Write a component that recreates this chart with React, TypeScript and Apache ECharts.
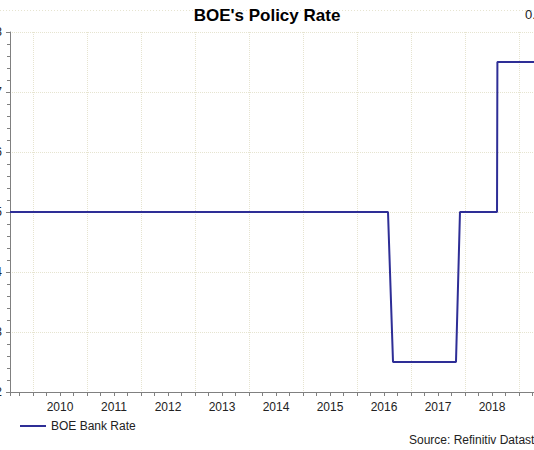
import { useEffect, useRef } from 'react';
import * as echarts from 'echarts';

// x in decimal years, y in percent
const rateDates = [2009.574, 2016.574, 2016.667, 2017.833, 2017.907, 2018.593, 2018.6, 2019.463];
const rateValues = [0.5, 0.5, 0.25, 0.25, 0.5, 0.5, 0.75, 0.75];
const X_MIN = 2009.574;
const X_MAX = 2019.463;
const yTicks = { min: 0.2, max: 0.8, step: 0.1 };
const lastValueLabel = '0.75';

const FONT = '"Liberation Sans", Arial, sans-serif';
const GRID_COLOR = '#e6e4d0';
const AXIS_COLOR = '#808080';

export default function App() {
  const chartRef = useRef<HTMLDivElement>(null);

  useEffect(() => {
    if (!chartRef.current) return;
    document.body.style.margin = '0';
    const chart = echarts.init(chartRef.current, null, { renderer: 'svg' });

    const points = rateDates.map((d, i) => [d, rateValues[i]]);

    const option = {
      animation: false,
      textStyle: { fontFamily: FONT },
      title: {
        text: "BOE's Policy Rate",
        left: 'center',
        top: 2,
        textStyle: { fontFamily: FONT, fontSize: 17, fontWeight: 'bold', color: '#000' },
      },
      legend: {
        left: 14,
        top: 415,
        itemWidth: 26,
        itemHeight: 2,
        itemGap: 10,
        textStyle: { fontFamily: FONT, fontSize: 12, color: '#222' },
        data: ['BOE Bank Rate'],
      },
      grid: {
        left: 10,
        right: -10,
        top: 32,
        bottom: 58,
        containLabel: false,
        outerBoundsMode: 'none',
      },
      xAxis: [
        {
          // main axis: line + year gridlines
          type: 'value',
          position: 'bottom',
          min: X_MIN,
          max: X_MAX,
          splitNumber: 10,
          minInterval: 1,
          maxInterval: 1,
          axisLine: { show: true, onZero: false, lineStyle: { color: AXIS_COLOR, width: 1 } },
          axisTick: { show: false },
          axisLabel: { show: false },
          splitLine: { show: true, lineStyle: { color: GRID_COLOR, type: 'dotted', width: 1 } },
        },
        {
          // quarterly ticks
          type: 'value',
          position: 'bottom',
          min: X_MIN,
          max: X_MAX,
          splitNumber: 40,
          minInterval: 0.25,
          maxInterval: 0.25,
          axisLine: { show: false, onZero: false },
          axisTick: { show: true, length: 4, lineStyle: { color: AXIS_COLOR } },
          axisLabel: { show: false },
          splitLine: { show: false },
        },
        {
          // year labels, centred mid-year
          type: 'value',
          position: 'bottom',
          min: X_MIN - 0.5,
          max: X_MAX - 0.5,
          splitNumber: 10,
          minInterval: 1,
          maxInterval: 1,
          axisLine: { show: false, onZero: false },
          axisTick: { show: false },
          splitLine: { show: false },
          axisLabel: {
            show: true,
            showMinLabel: false,
            showMaxLabel: false,
            margin: 9,
            fontFamily: FONT,
            fontSize: 12,
            color: '#222',
            formatter: (v: number) => String(Math.round(v)),
          },
        },
      ],
      yAxis: {
        type: 'value',
        min: yTicks.min,
        max: yTicks.max,
        interval: yTicks.step,
        axisLine: { show: true, lineStyle: { color: AXIS_COLOR, width: 1 } },
        axisTick: { show: true, length: 4, lineStyle: { color: AXIS_COLOR } },
        minorTick: { show: true, splitNumber: 5, length: 3, lineStyle: { color: AXIS_COLOR } },
        splitLine: { show: true, lineStyle: { color: GRID_COLOR, type: 'dotted', width: 1 } },
        axisLabel: {
          margin: 8,
          fontFamily: FONT,
          fontSize: 12,
          color: '#222',
          formatter: (v: number) => v.toFixed(1),
        },
      },
      graphic: [
        {
          type: 'line',
          shape: { x1: 0, y1: 10.5, x2: 534, y2: 10.5 },
          style: { stroke: GRID_COLOR, lineWidth: 1, lineDash: [1, 2] },
          silent: true,
        },
        {
          type: 'text',
          left: 525,
          top: 8,
          style: { text: lastValueLabel, fontFamily: FONT, fontSize: 13, fill: '#222' },
        },
        {
          type: 'text',
          left: 409,
          top: 434,
          style: { text: 'Source: Refinitiv Datastream', fontFamily: FONT, fontSize: 12, fill: '#222' },
        },
      ],
      series: [
        {
          name: 'BOE Bank Rate',
          type: 'line',
          xAxisIndex: 0,
          data: points,
          symbol: 'none',
          lineStyle: { color: '#2e2e96', width: 2 },
          itemStyle: { color: '#2e2e96' },
        },
      ],
    };

    chart.setOption(option);

    return () => {
      chart.dispose();
    };
  }, []);

  return <div ref={chartRef} style={{ width: '534px', height: '450px' }} />;
}
